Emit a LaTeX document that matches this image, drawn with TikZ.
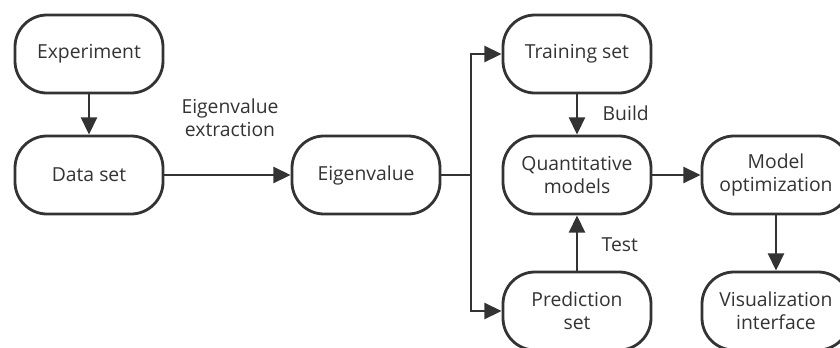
\documentclass[tikz,border=0pt]{standalone}
\usepackage{fontspec}
\setmainfont{Open Sans}
\usetikzlibrary{arrows.meta}
\definecolor{ink}{HTML}{333333}
\begin{document}
\begin{tikzpicture}[x=0.75pt,y=-0.75pt,
  box/.style={draw=ink,line width=2.1pt,rounded corners=24pt,minimum width=111pt,minimum height=58.5pt,align=center,inner sep=0pt,text=ink,font=\fontsize{14.5}{17.5}\selectfont},
  lbl/.style={text=ink,align=center,font=\fontsize{14.5}{17.5}\selectfont},
  conn/.style={draw=ink,line width=2.1pt,-{Triangle[length=13pt,width=12pt]}},
  plain/.style={draw=ink,line width=2.1pt}]
\useasboundingbox (0,0) rectangle (840,347);
\clip (0,0) rectangle (840,347);
\node[box] (exp) at (89,54) {Experiment};
\node[box] (data) at (89,175) {Data set};
\node[box] (eig) at (366,175) {Eigenvalue};
\node[box] (train) at (577,54) {Training set};
\node[box] (quant) at (577,175) {Quantitative\\models};
\node[box] (pred) at (577,311) {Prediction\\set};
\node[box] (opt) at (776,175) {Model\\optimization};
\node[box] (vis) at (776,311) {Visualization\\interface};
\coordinate (br) at (471,175);
\node[lbl] (ext) at (230,118) {Eigenvalue\\extraction};
\node[lbl,anchor=west] (build) at (598,113) {Build};
\node[lbl,anchor=west] (test) at (597,245) {Test};
\draw[conn] (exp) -- (data);
\draw[conn] (data) -- (eig);
\draw[plain] (eig) -- (br);
\draw[conn] (br) |- (train);
\draw[conn] (br) |- (pred);
\draw[conn] (train) -- (quant);
\draw[conn] (pred) -- (quant);
\draw[conn] (quant) -- (opt);
\draw[conn] (opt) -- (vis);
\end{tikzpicture}
\end{document}
